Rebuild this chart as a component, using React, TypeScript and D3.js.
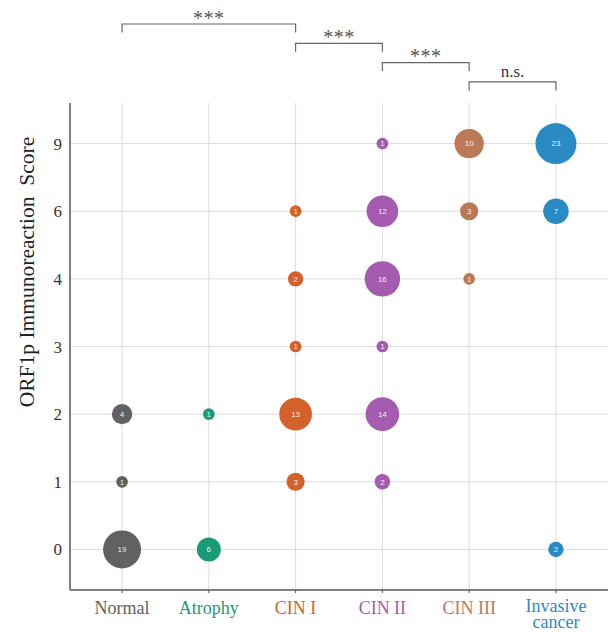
import React from "react";
import * as d3 from "d3";

// categories on the x axis and their colours
const groups = ["Normal", "Atrophy", "CIN I", "CIN II", "CIN III", "Invasive cancer"];
const groupColors = ["#616161", "#1a9b74", "#d4602a", "#a55bb0", "#b97a55", "#2a8bc4"];

// immunoreaction scores (discrete y axis)
const scores = ["0", "1", "2", "3", "4", "6", "9"];

// number of cases per score, same order as `scores` (0 = no bubble)
const normalCounts = [19, 1, 4, 0, 0, 0, 0];
const atrophyCounts = [6, 0, 1, 0, 0, 0, 0];
const cin1Counts = [0, 3, 13, 1, 2, 1, 0];
const cin2Counts = [0, 2, 14, 1, 16, 12, 1];
const cin3Counts = [0, 0, 0, 0, 1, 3, 10];
const invasiveCounts = [2, 0, 0, 0, 0, 7, 23];

// significance brackets between neighbouring groups
const compFrom = ["Normal", "CIN I", "CIN II", "CIN III"];
const compTo = ["CIN I", "CIN II", "CIN III", "Invasive cancer"];
const compLabels = ["***", "***", "***", "n.s."];

const W = 613;
const H = 632;
const margin = { top: 103, right: 5, bottom: 42, left: 70 };

export default function App() {
  const allCounts = [normalCounts, atrophyCounts, cin1Counts, cin2Counts, cin3Counts, invasiveCounts];

  const x = d3
    .scalePoint<string>()
    .domain(groups)
    .range([margin.left, W - margin.right])
    .padding(0.6);

  const y = d3
    .scalePoint<string>()
    .domain(scores)
    .range([H - margin.bottom, margin.top])
    .padding(0.6);

  const maxCount = d3.max(allCounts.flat()) as number;
  const r = d3.scalePow().exponent(0.4).domain([0, maxCount]).range([0, 20.5]);

  const bubbles: { g: string; s: string; n: number; color: string }[] = [];
  allCounts.forEach((counts, gi) => {
    counts.forEach((n, si) => {
      if (n > 0) bubbles.push({ g: groups[gi], s: scores[si], n, color: groupColors[gi] });
    });
  });

  const x0 = margin.left;
  const x1 = W - margin.right;
  const yTop = margin.top;
  const yBot = H - margin.bottom;
  const serif = "'Liberation Serif', 'Times New Roman', serif";

  return (
    <svg width={W} height={H} style={{ position: "absolute", left: 0, top: 0, background: "#fff" }}>
      {/* grid */}
      <g stroke="#dcdcdc" strokeWidth={1}>
        {scores.map((s) => (
          <line key={"h" + s} x1={x0} x2={x1} y1={y(s)} y2={y(s)} />
        ))}
        {groups.map((g) => (
          <line key={"v" + g} x1={x(g)} x2={x(g)} y1={yTop} y2={yBot} />
        ))}
      </g>

      {/* axes */}
      <g stroke="#555" strokeWidth={1.5} fill="none">
        <line x1={x0} x2={x0} y1={yTop} y2={yBot} />
        <line x1={x0} x2={x1} y1={yBot} y2={yBot} />
        {groups.map((g) => (
          <line key={"t" + g} x1={x(g)} x2={x(g)} y1={yBot} y2={yBot + 3} strokeWidth={1} />
        ))}
      </g>

      {/* y tick labels */}
      {scores.map((s) => (
        <text key={"yl" + s} x={62} y={(y(s) as number) + 6} textAnchor="end" fontFamily={serif} fontSize={17} fill="#333">
          {s}
        </text>
      ))}

      {/* x tick labels */}
      {groups.map((g, i) => {
        const parts = g === "Invasive cancer" ? ["Invasive", "cancer"] : [g];
        return (
          <text key={"xl" + g} x={x(g)} textAnchor="middle" fontFamily={serif} fontSize={18} fill={groupColors[i]}>
            {parts.map((p, k) => (
              <tspan key={p} x={x(g)} y={parts.length > 1 ? 612 + k * 16 : 614}>
                {p}
              </tspan>
            ))}
          </text>
        );
      })}

      {/* y axis title */}
      <text
        transform="translate(34,272) rotate(-90)"
        textAnchor="middle"
        fontFamily={serif}
        fontSize={21.5}
        fill="#222"
        style={{ whiteSpace: "pre" }}
      >
        {"ORF1p Immunoreaction  Score"}
      </text>

      {/* bubbles */}
      {bubbles.map((b) => (
        <g key={b.g + b.s}>
          <circle cx={x(b.g)} cy={y(b.s)} r={r(b.n)} fill={b.color} />
          <text
            x={x(b.g)}
            y={(y(b.s) as number) + 2.8}
            textAnchor="middle"
            fontFamily="'Liberation Sans', Arial, sans-serif"
            fontSize={8}
            fill="#fff"
            fillOpacity={0.9}
          >
            {b.n}
          </text>
        </g>
      ))}

      {/* significance brackets */}
      {compFrom.map((from, i) => {
        const xa = x(from) as number;
        const xb = x(compTo[i]) as number;
        const yb = 24 + i * 19.3;
        const isNs = compLabels[i] === "n.s.";
        return (
          <g key={"c" + i}>
            <path
              d={`M${xa},${yb + 8.5}V${yb}H${xb}V${yb + 8.5}`}
              fill="none"
              stroke="#666"
              strokeWidth={1.2}
            />
            <text
              x={(xa + xb) / 2}
              y={isNs ? yb - 5 : yb + 0.5}
              textAnchor="middle"
              fontFamily={serif}
              fontSize={isNs ? 17 : 20}
              fill={isNs ? "#333" : "#555"}
              letterSpacing={isNs ? 0 : 0.5}
            >
              {compLabels[i]}
            </text>
          </g>
        );
      })}
    </svg>
  );
}
